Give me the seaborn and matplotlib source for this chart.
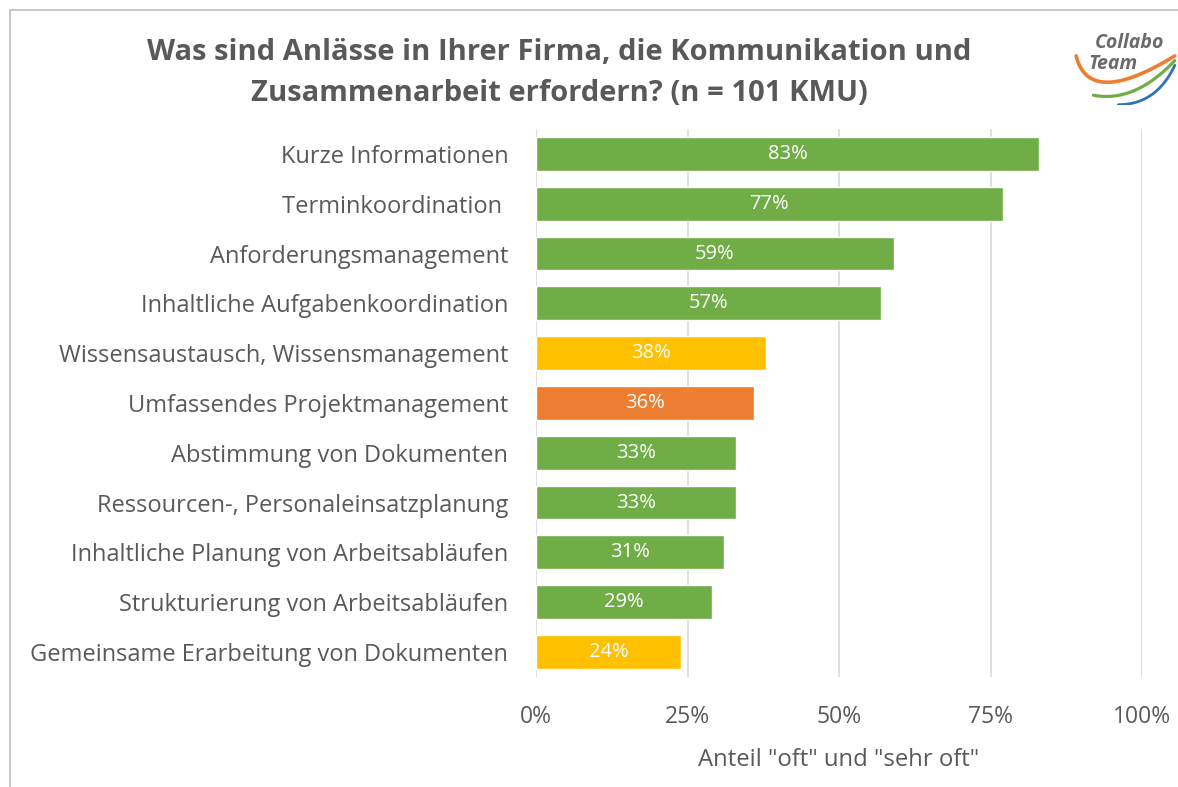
import numpy as np
import pandas as pd
import matplotlib
matplotlib.use("Agg")
import matplotlib.pyplot as plt
import seaborn as sns

# ---- data ----
categories = [
    "Kurze Informationen",
    "Terminkoordination ",
    "Anforderungsmanagement",
    "Inhaltliche Aufgabenkoordination",
    "Wissensaustausch, Wissensmanagement",
    "Umfassendes Projektmanagement",
    "Abstimmung von Dokumenten",
    "Ressourcen-, Personaleinsatzplanung",
    "Inhaltliche Planung von Arbeitsabläufen",
    "Strukturierung von Arbeitsabläufen",
    "Gemeinsame Erarbeitung von Dokumenten",
]
shares = [83, 77, 59, 57, 38, 36, 33, 33, 31, 29, 24]
groups = ["g", "g", "g", "g", "y", "o", "g", "g", "g", "g", "y"]
tick_values = [0, 25, 50, 75, 100]
tick_labels = ["0%", "25%", "50%", "75%", "100%"]

palette = {"g": "#70AD47", "y": "#FFC000", "o": "#ED7D31"}
grey = "#595959"

df = pd.DataFrame({"cat": categories, "share": shares, "grp": groups})

sns.set_style("white")
plt.rcParams["font.family"] = ["Open Sans", "DejaVu Sans"]

fig = plt.figure(figsize=(11.78, 7.87), dpi=100)
ax = fig.add_axes([0.455, 0.140, 0.5145, 0.696])

sns.barplot(data=df, y="cat", x="share", hue="grp", palette=palette,
            dodge=False, legend=False, width=0.68, saturation=1, ax=ax, orient="h")

for i, v in enumerate(shares):
    ax.text(v / 2, i, f"{v}%", ha="center", va="center", color="white", fontsize=14.5)

ax.set_xlim(0, 100)
ax.set_ylim(len(categories) - 0.5, -0.5)
ax.set_xticks(tick_values)
ax.set_xticklabels(tick_labels)
ax.xaxis.grid(True, color="#D9D9D9", linewidth=1.2)
ax.set_axisbelow(True)
for s in ax.spines.values():
    s.set_visible(False)
ax.tick_params(axis="both", length=0, labelcolor=grey)
ax.tick_params(axis="x", pad=20, labelsize=16.5)
ax.tick_params(axis="y", pad=20, labelsize=17)
ax.set_ylabel("")
ax.set_xlabel('Anteil "oft" und "sehr oft"', color=grey, fontsize=17.2, labelpad=14)

fig.text(0.475, 0.907, "Was sind Anlässe in Ihrer Firma, die Kommunikation und\nZusammenarbeit erfordern? (n = 101 KMU)",
         ha="center", va="center", fontsize=21, fontweight="bold", color=grey, linespacing=1.55)

# frame (top and left edge only)
fig.add_artist(plt.Line2D([0.0085, 1.0], [0.987, 0.987], color="#BFBFBF", linewidth=1.2))
fig.add_artist(plt.Line2D([0.0085, 0.0085], [0.0, 0.987], color="#BFBFBF", linewidth=1.2))

# logo: swooshes as quadratic curves under the wordmark
def swoosh(p0, p1, p2, color, lw):
    t = np.linspace(0, 1, 80)[:, None]
    pts = (1 - t) ** 2 * np.array(p0) + 2 * (1 - t) * t * np.array(p1) + t ** 2 * np.array(p2)
    lax.plot(pts[:, 0], pts[:, 1], color=color, lw=lw, solid_capstyle="round")

lax = fig.add_axes([0.908, 0.867, 0.092, 0.10])
lax.set_xlim(0, 1)
lax.set_ylim(0, 1)
lax.axis("off")
swoosh((0.06, 0.62), (0.18, -0.05), (0.97, 0.62), "#ED7D31", 2.6)
swoosh((0.22, 0.12), (0.6, 0.02), (0.97, 0.56), "#70AD47", 2.3)
swoosh((0.45, 0.0), (0.8, 0.0), (0.97, 0.5), "#2E75B6", 2.0)
lax.text(0.55, 0.78, "Collabo", ha="center", va="center", fontsize=14, fontweight="bold",
         style="italic", color="#6B6B6B")
lax.text(0.4, 0.52, "Team", ha="center", va="center", fontsize=14, fontweight="bold",
         style="italic", color="#6B6B6B")

fig.savefig("out.png", dpi=100)
